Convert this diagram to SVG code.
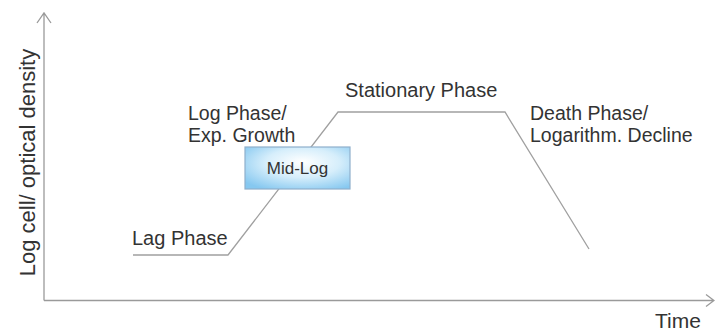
<svg xmlns="http://www.w3.org/2000/svg" width="715" height="333" viewBox="0 0 715 333">
  <style>
    .axis { fill: none; stroke: #9a9a9a; stroke-width: 1.3; }
    .curve { fill: none; stroke: #a0a0a0; stroke-width: 1.3; stroke-linejoin: miter; }
    .lbl { font-family: "Liberation Sans", Arial, sans-serif; font-size: 20px; fill: #333333; }
    .two { font-size: 19.5px; }
    .box { stroke: #8fb0cc; stroke-width: 1.2; fill: url(#boxFill); }
  </style>
  <defs>
    <radialGradient id="boxFill" cx="0.55" cy="0.4" r="0.7" fx="0.55" fy="0.35">
      <stop offset="0" stop-color="#ffffff"/>
      <stop offset="0.5" stop-color="#d6eefb"/>
      <stop offset="1" stop-color="#86c8f0"/>
    </radialGradient>
  </defs>
  <rect width="715" height="333" fill="#ffffff"/>

  <!-- axes -->
  <g id="axes">
    <path class="axis" d="M44,300.5 V13 M37,23 L44,13 L51,23"/>
    <path class="axis" d="M44,300.5 H714 M706,294.5 L714,300.5 L706,306.5"/>
    <text class="lbl" style="font-size:22px" transform="translate(35,162.5) rotate(-90)" text-anchor="middle">Log cell/ optical density</text>
    <text class="lbl" style="font-size:21px" x="655" y="328">Time</text>
  </g>

  <!-- growth curve -->
  <g id="connectors">
    <polyline class="curve" points="133,255 228,255 338,112 505,112 589,249"/>
  </g>

  <g id="lag">
    <text class="lbl" x="132" y="245">Lag Phase</text>
  </g>
  <g id="log">
    <text class="lbl two" x="188" y="120">Log Phase/</text>
    <text class="lbl two" x="188" y="142">Exp. Growth</text>
  </g>
  <g id="stationary">
    <text class="lbl" x="345" y="97">Stationary Phase</text>
  </g>
  <g id="death">
    <text class="lbl two" x="530" y="120">Death Phase/</text>
    <text class="lbl two" x="530" y="142">Logarithm. Decline</text>
  </g>
  <g id="midlog">
    <rect class="box" x="245" y="147" width="105" height="42"/>
    <text class="lbl" style="font-size:17px" x="297.5" y="174" text-anchor="middle">Mid-Log</text>
  </g>
</svg>
